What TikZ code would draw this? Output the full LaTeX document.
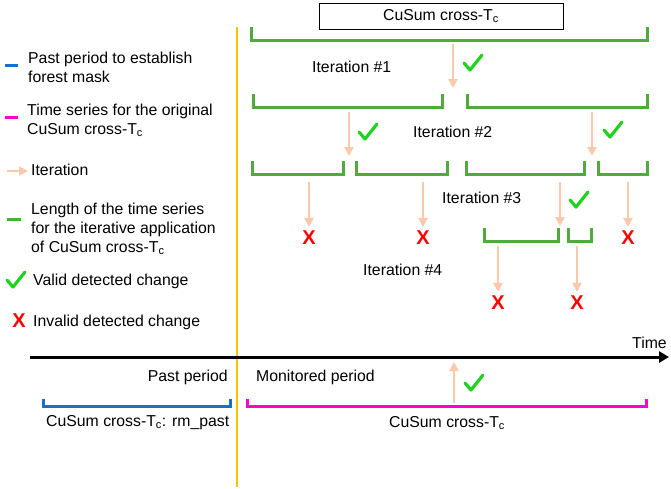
\documentclass[tikz,border=0pt]{standalone}
\usepackage{fontspec}
\setmainfont{Liberation Sans}
\usetikzlibrary{arrows.meta}
\definecolor{gcol}{RGB}{80,170,60}
\definecolor{chk}{RGB}{30,210,30}
\definecolor{xred}{RGB}{255,0,0}
\definecolor{arrc}{RGB}{250,200,170}
\definecolor{blu}{RGB}{30,110,200}
\definecolor{mag}{RGB}{255,0,210}
\definecolor{orac}{RGB}{255,192,0}
\tikzset{
  txt/.style={font=\fontsize{15.8}{19}\selectfont, inner sep=0pt, align=left},
  gbr/.style={draw=gcol, line width=3pt, line join=miter},
  itarr/.style={draw=arrc, line width=2.6pt, -{Triangle[width=9pt,length=9pt]}},
  chkmark/.style={draw=chk, line width=3.2pt, line cap=round, line join=round},
  xmark/.style={text=xred, font=\fontsize{20}{20}\selectfont\bfseries, inner sep=0pt},
}
\newcommand\gbrk[3]{\draw[gbr] (#1,{#3-13}) -- (#1,#3) -- (#2,#3) -- (#2,{#3-13});}
\newcommand\chkat[2]{\draw[chkmark] (#1-9,#2) -- (#1-3,#2+7) -- (#1+9,#2-8);}
\begin{document}
\begin{tikzpicture}[x=1pt,y=-1pt]
\useasboundingbox (0,0) rectangle (671,488);
% vertical orange line
\draw[orac, line width=2.5pt] (237,27) -- (237,487);
% top box
\node[draw=black, line width=1pt, minimum width=244pt, minimum height=26pt, inner sep=0pt, font=\fontsize{15.8}{19}\selectfont] (box) at (441,16) {CuSum cross-T\textsubscript{c}};
% level brackets
\gbrk{251}{647}{40}
\gbrk{253}{442}{107}
\gbrk{467}{647}{107}
\gbrk{252}{343}{174}
\gbrk{356}{447}{174}
\gbrk{466}{584}{174}
\gbrk{598}{647}{174}
\gbrk{484}{558}{241}
\gbrk{568}{591}{241}
% iteration labels
\node[txt, anchor=base west] (it1) at (312,72) {Iteration \#1};
\node[txt, anchor=base west] (it2) at (413,137) {Iteration \#2};
\node[txt, anchor=base west] (it3) at (442,203) {Iteration \#3};
\node[txt, anchor=base west] (it4) at (363,275) {Iteration \#4};
% coordinates for arrows
\coordinate (a1s) at (453,44); \coordinate (a1e) at (453,88);
\coordinate (a2s) at (349,112); \coordinate (a2e) at (349,156);
\coordinate (a3s) at (592,112); \coordinate (a3e) at (592,156);
\coordinate (b1s) at (309,182); \coordinate (b2s) at (423,182);
\coordinate (b3s) at (560,182); \coordinate (b3e) at (560,226);
\coordinate (b4s) at (628,182);
\coordinate (c1s) at (498,246); \coordinate (c2s) at (577,246);
% X marks
\node[xmark] (x1) at (309,238) {X};
\node[xmark] (x2) at (423,238) {X};
\node[xmark] (x3) at (628,238) {X};
\node[xmark] (x4) at (498,303) {X};
\node[xmark] (x5) at (577,303) {X};
% arrows
\draw[itarr] (a1s) -- (a1e);
\draw[itarr] (a2s) -- (a2e);
\draw[itarr] (a3s) -- (a3e);
\draw[itarr] (b1s) -- ([yshift=4pt]x1.north);
\draw[itarr] (b2s) -- ([yshift=4pt]x2.north);
\draw[itarr] (b3s) -- (b3e);
\draw[itarr] (b4s) -- ([yshift=4pt]x3.north);
\draw[itarr] (c1s) -- ([yshift=4pt]x4.north);
\draw[itarr] (c2s) -- ([yshift=4pt]x5.north);
% checks
\chkat{473}{63}
\chkat{368}{132}
\chkat{613}{130}
\chkat{579}{200}
\chkat{474}{383}
% time axis
\coordinate (t0) at (30,357);
\coordinate (t1) at (669,357);
\draw[black, line width=3pt, -{Triangle[width=11pt,length=10pt]}] (t0) -- (t1);
\node[txt, anchor=base west] (time) at (632,348) {Time};
\node[txt, anchor=base east] (past) at (228,381) {Past period};
\node[txt, anchor=base west] (mon) at (256,381) {Monitored period};
% blue and magenta brackets
\draw[blu, line width=3pt] (43,399) -- (43,406) -- (230,406) -- (230,399);
\draw[mag, line width=3pt] (247,399) -- (247,406) -- (646,406) -- (646,399);
\node[txt, anchor=base west] (rmp) at (46,426) {CuSum cross-T\textsubscript{c}: rm\_past};
\node[txt, anchor=base west] (cct) at (389,427) {CuSum cross-T\textsubscript{c}};
\coordinate (us) at (454,403); \coordinate (ue) at (454,362);
\draw[itarr] (us) -- (ue);
% legend
\draw[blu, line width=3pt] (5,65) -- (18,65);
\node[txt, anchor=base west] (l1) at (28,82) {Past period to establish\\forest mask};
\draw[mag, line width=3pt] (5,117) -- (18,117);
\node[txt, anchor=base west] (l2) at (27,134) {Time series for the original\\CuSum cross-T\textsubscript{c}};
\coordinate (la0) at (7,171); \coordinate (la1) at (28,171);
\draw[itarr] (la0) -- (la1);
\node[txt, anchor=base west] (l3) at (31,175) {Iteration};
\draw[gcol, line width=3pt] (7,219) -- (21,219);
\node[txt, anchor=base west] (l4) at (31,252) {Length of the time series\\for the iterative application\\of CuSum cross-T\textsubscript{c}};
\chkat{16}{280}
\node[txt, anchor=base west] (l5) at (33,285) {Valid detected change};
\node[xmark] (lx) at (19,321) {X};
\node[txt, anchor=base west] (l6) at (33,326) {Invalid detected change};
\end{tikzpicture}
\end{document}
